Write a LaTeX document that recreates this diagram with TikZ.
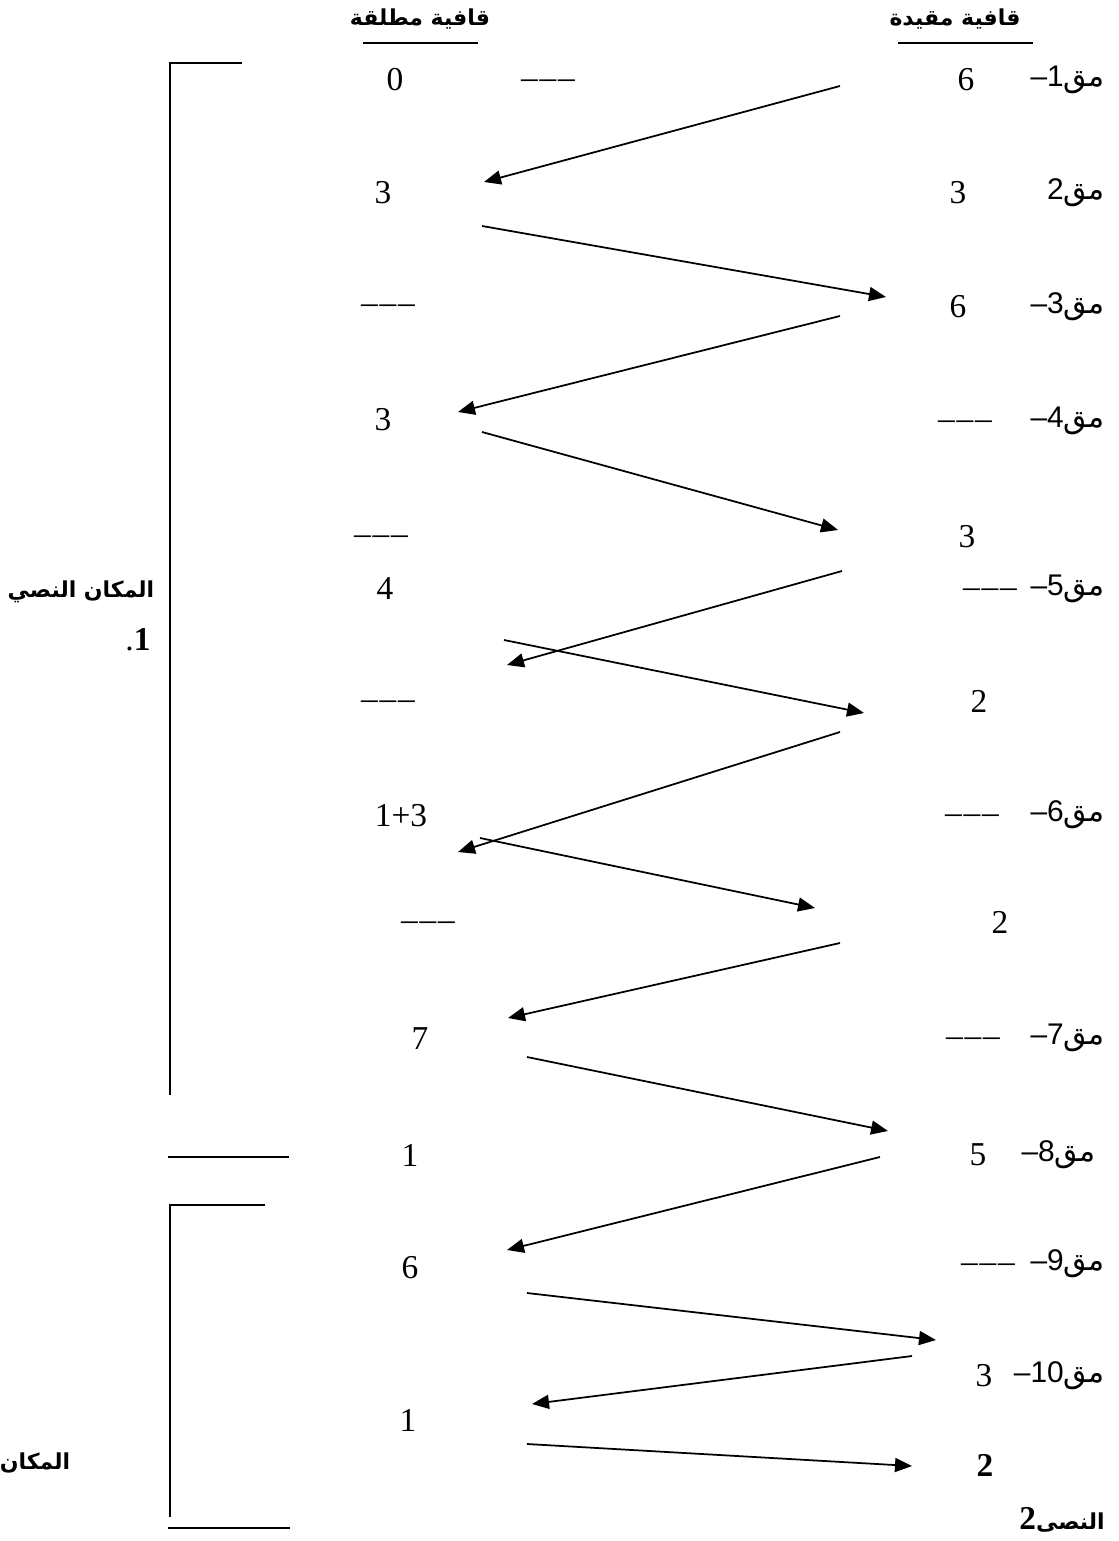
\documentclass[tikz,border=0pt]{standalone}
\usepackage{fontspec}
\usepackage{tikz}
\usetikzlibrary{arrows.meta}
\TeXXeTstate=1
\setmainfont{Liberation Serif}
\newfontfamily\arabicfont[Script=Arabic]{DejaVu Sans}
\newfontfamily\labfont{Liberation Sans}
\newcommand{\nul}{\vphantom{0}\raisebox{0.07em}{–\kern1pt–\kern1pt–}}
\newcommand{\maq}[2][–\kern1.5pt]{\beginR{\arabicfont مق}\beginL#2\endL#1\endR}
\tikzset{
    val/.style={inner sep=0pt,font=\fontsize{19}{22}\selectfont},
    tag/.style={inner sep=0pt,anchor=east,font=\labfont\fontsize{17}{20}\selectfont},
    head/.style={inner sep=0pt,font=\arabicfont\bfseries\fontsize{12.5}{15}\selectfont},
    side/.style={inner sep=0pt,font=\arabicfont\bfseries\fontsize{12.5}{15}\selectfont},
    link/.style={-{Triangle[length=3.4mm,width=2.8mm]},line width=1pt},
    rule/.style={line width=1.1pt},
}
\begin{document}
\begin{tikzpicture}[x=0.2mm,y=-0.2mm]
\useasboundingbox (0,0) rectangle (1118,1541);

% headers
\node[head] (hA) at (420,19) {\beginR قافية مطلقة\endR};
\node[head] (hB) at (955,19) {\beginR قافية مقيدة\endR};
\coordinate (uA1) at (363,43); \coordinate (uA2) at (478,43);
\coordinate (uB1) at (898,43); \coordinate (uB2) at (1033,43);
\draw[rule] (uA1) -- (uA2);
\draw[rule] (uB1) -- (uB2);

% left column
\node[val] (L1)  at (395,80)   {0};
\node[val] (M1)  at (548,80)   {\nul};
\node[val] (L2)  at (383,193)  {3};
\node[val] (L3)  at (388,305)  {\nul};
\node[val] (L4)  at (383,420)  {3};
\node[val] (L5)  at (381,536)  {\nul};
\node[val] (L6)  at (385,589)  {4};
\node[val] (L7)  at (388,701)  {\nul};
\node[val] (L8)  at (401,816)  {1+3};
\node[val] (L9)  at (428,922)  {\nul};
\node[val] (L10) at (420,1039) {7};
\node[val] (L11) at (410,1155) {1};
\node[val] (L12) at (410,1268) {6};
\node[val] (L13) at (408,1420) {1};

% right column
\node[val] (R1)  at (966,80)   {6};
\node[val] (R2)  at (958,193)  {3};
\node[val] (R3)  at (958,307)  {6};
\node[val] (R4)  at (965,421)  {\nul};
\node[val] (R5)  at (967,537)  {3};
\node[val] (R6)  at (990,589)  {\nul};
\node[val] (R7)  at (979,701)  {2};
\node[val] (R8)  at (972,815)  {\nul};
\node[val] (R9)  at (1000,922) {2};
\node[val] (R10) at (973,1038) {\nul};
\node[val] (R11) at (978,1155) {5};
\node[val] (R12) at (988,1264) {\nul};
\node[val] (R13) at (984,1376) {3};
\node[val] (R14) at (985,1465) {\textbf{2}};

% verse tags
\node[tag] (T1)  at (1105,80)   {\maq{1}};
\node[tag] (T2)  at (1105,193)  {\maq[]{2}};
\node[tag] (T3)  at (1105,307)  {\maq{3}};
\node[tag] (T4)  at (1105,421)  {\maq{4}};
\node[tag] (T5)  at (1105,589)  {\maq{5}};
\node[tag] (T6)  at (1105,815)  {\maq{6}};
\node[tag] (T7)  at (1105,1038) {\maq{7}};
\node[tag] (T8)  at (1096,1155) {\maq{8}};
\node[tag] (T9)  at (1105,1264) {\maq{9}};
\node[tag] (T10) at (1105,1376) {\maq{10}};

% side labels
\node[side] (S1) at (81,592)  {\beginR المكان النصي\endR};
\node[val] (S2) at (138,640) {.\textbf{1}};
\node[side] (S3) at (35,1463) {\beginR المكان\endR};
\node[side,anchor=east] (S4) at (1105,1520) {\beginR النصى\beginL{\rmfamily\fontsize{19}{22}\selectfont\bfseries 2}\endL\endR};

% brackets
\coordinate (b1) at (242,63);  \coordinate (b2) at (170,63);  \coordinate (b3) at (170,1095);
\coordinate (b4) at (168,1157); \coordinate (b5) at (289,1157);
\coordinate (b6) at (265,1205); \coordinate (b7) at (170,1205); \coordinate (b8) at (170,1517);
\coordinate (b9) at (168,1528); \coordinate (b10) at (290,1528);
\draw[rule] (b1) -- (b2) -- (b3);
\draw[rule] (b4) -- (b5);
\draw[rule] (b6) -- (b7) -- (b8);
\draw[rule] (b9) -- (b10);

% arrows
\foreach \i/\xa/\ya/\xb/\yb in {1/840/86/484/182, 2/482/226/886/297, 3/840/316/458/412,
    4/482/432/838/530, 5/842/571/507/665, 6/504/640/864/713, 7/840/732/458/852,
    8/480/838/815/908, 9/840/943/508/1018, 10/527/1057/888/1131, 11/880/1157/507/1250,
    12/527/1293/936/1340, 13/912/1356/532/1404, 14/527/1444/912/1466}{
  \coordinate (s\i) at (\xa,\ya);
  \coordinate (e\i) at (\xb,\yb);
  \draw[link] (s\i) -- (e\i);
}
\end{tikzpicture}
\end{document}
